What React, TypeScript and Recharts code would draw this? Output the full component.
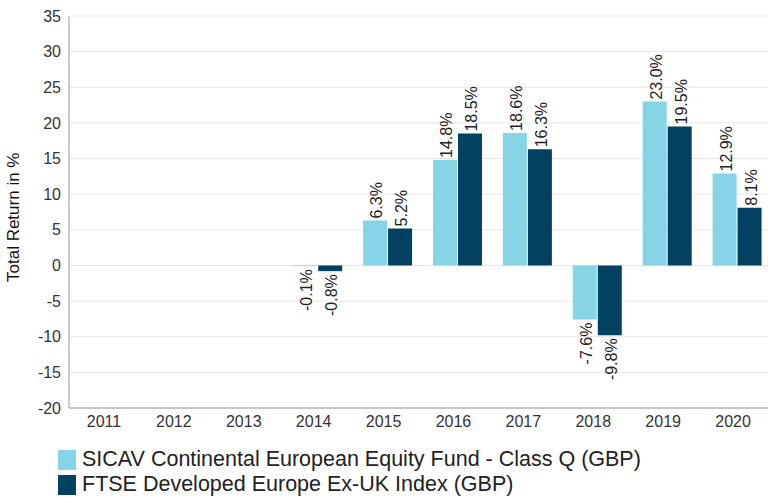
import { BarChart, Bar, XAxis, YAxis, CartesianGrid, Legend, LabelList, Rectangle } from 'recharts';

const years = ['2011', '2012', '2013', '2014', '2015', '2016', '2017', '2018', '2019', '2020'];
const fundReturns = [null, null, null, -0.1, 6.3, 14.8, 18.6, -7.6, 23.0, 12.9];
const indexReturns = [null, null, null, -0.8, 5.2, 18.5, 16.3, -9.8, 19.5, 8.1];
const yTicks = [-20, -15, -10, -5, 0, 5, 10, 15, 20, 25, 30, 35];

const FUND_NAME = 'SICAV Continental European Equity Fund - Class Q (GBP)';
const INDEX_NAME = 'FTSE Developed Europe Ex-UK Index (GBP)';
const FUND_COLOR = '#86d5e7';
const INDEX_COLOR = '#02415f';

const data = years.map((year, i) => ({
  year,
  fund: fundReturns[i],
  index: indexReturns[i],
}));

const FONT = '"Liberation Sans", Arial, sans-serif';
// bars sit a few px right of the tick label in the original
const BAR_SHIFT = 4;

const shiftedBar = (props: any) => <Rectangle {...props} x={Number(props.x) + BAR_SHIFT} />;

const renderLabel = (props: any) => {
  const { x, y, width, height, value } = props;
  if (value === null || value === undefined) return null;
  const cx = Number(x) + BAR_SHIFT + Number(width) / 2;
  const top = Math.min(Number(y), Number(y) + Number(height));
  const bottom = Math.max(Number(y), Number(y) + Number(height));
  const positive = value >= 0;
  const ly = positive ? top - 2 : bottom + 3;
  const lx = cx + 7;
  return (
    <text
      x={lx}
      y={ly}
      transform={`rotate(-90, ${lx}, ${ly})`}
      textAnchor={positive ? 'start' : 'end'}
      fontSize={16}
      fontFamily={FONT}
      fill="#222"
    >
      {value.toFixed(1)}%
    </text>
  );
};

const renderLegend = () => (
  <div style={{ fontFamily: FONT, fontSize: 21.5, color: '#222', paddingLeft: 58, paddingTop: 10 }}>
    {[
      { name: FUND_NAME, color: FUND_COLOR },
      { name: INDEX_NAME, color: INDEX_COLOR },
    ].map((item) => (
      <div key={item.name} style={{ display: 'flex', alignItems: 'center', height: 25, whiteSpace: 'nowrap' }}>
        <span style={{ display: 'inline-block', width: 18, height: 20, background: item.color, marginRight: 6 }} />
        <span>{item.name}</span>
      </div>
    ))}
  </div>
);

export default function App() {
  return (
    <div style={{ position: 'absolute', left: 0, top: 0, width: 768, height: 497, background: '#fff' }}>
      <BarChart
        width={768}
        height={497}
        data={data}
        margin={{ top: 16, right: 0, left: 0, bottom: 0 }}
        barCategoryGap="15%"
        barGap={1}
      >
        <CartesianGrid vertical={false} stroke="#e6e6e6" />
        <XAxis
          dataKey="year"
          height={29}
          axisLine={{ stroke: '#999' }}
          tickLine={false}
          tick={{ fontSize: 16, fill: '#333', fontFamily: FONT }}
        />
        <YAxis
          width={69}
          domain={[-20, 35]}
          ticks={yTicks}
          interval={0}
          axisLine={{ stroke: '#999' }}
          tickLine={false}
          tick={{ fontSize: 16, fill: '#333', fontFamily: FONT }}
          label={{
            value: 'Total Return in %',
            angle: -90,
            position: 'insideLeft',
            dx: 8,
            dy: 70,
            style: { fontSize: 17, fill: '#111', fontFamily: FONT },
          }}
        />
        <Legend verticalAlign="bottom" align="left" height={60} content={renderLegend} />
        <Bar dataKey="fund" name={FUND_NAME} fill={FUND_COLOR} shape={shiftedBar} isAnimationActive={false}>
          <LabelList dataKey="fund" content={renderLabel} />
        </Bar>
        <Bar dataKey="index" name={INDEX_NAME} fill={INDEX_COLOR} shape={shiftedBar} isAnimationActive={false}>
          <LabelList dataKey="index" content={renderLabel} />
        </Bar>
      </BarChart>
    </div>
  );
}
